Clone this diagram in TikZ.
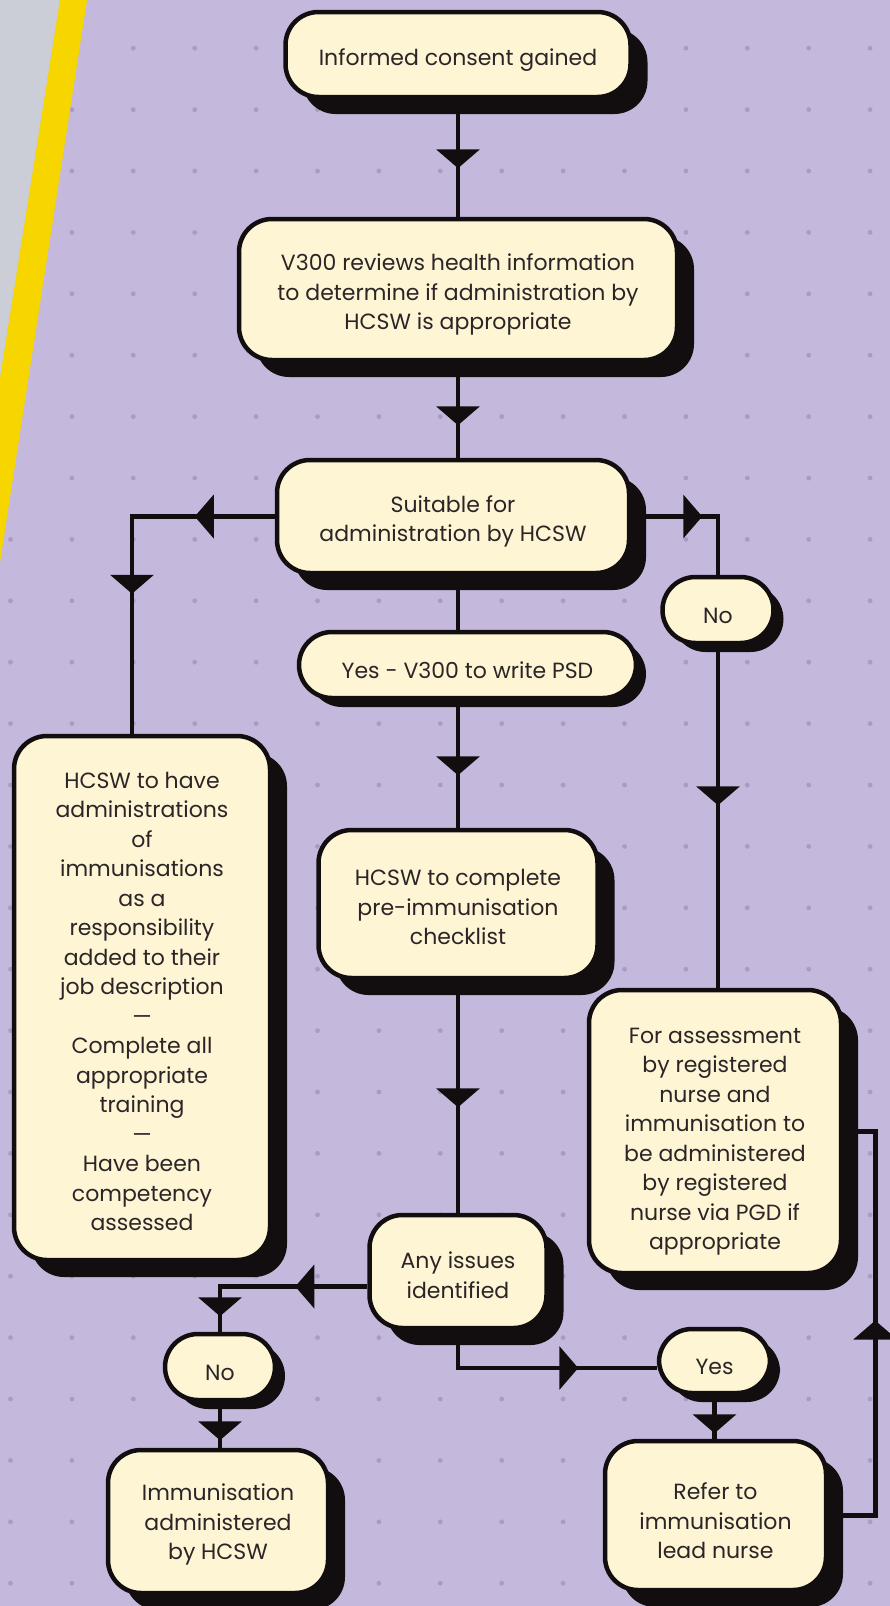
\documentclass[tikz,border=0pt]{standalone}
\usepackage{fontspec}
\setmainfont{Poppins}
\usepackage{xcolor}
\definecolor{fclavender}{RGB}{196,185,220}
\definecolor{fcdot}{RGB}{168,157,192}
\definecolor{fcgrey}{RGB}{203,206,215}
\definecolor{fcyellow}{RGB}{247,214,0}
\definecolor{fccream}{RGB}{254,245,213}
\definecolor{fcink}{RGB}{18,13,15}
\definecolor{fctext}{RGB}{43,37,39}
\usepackage{tikz}
\usetikzlibrary{arrows.meta, shadows, decorations.markings}
\pgfdeclarelayer{paper}
\pgfdeclarelayer{wires}
\pgfsetlayers{paper,wires,main}
\newcommand{\cardrise}[1][27pt]{\rule{0pt}{#1}}
\tikzset{
  card/.style={draw=fcink, line width=4.5pt, fill=fccream, rounded corners=33pt,
               text=fctext, align=center, inner sep=0pt,
               font=\fontsize{22}{29.5}\selectfont,
               execute at begin node={\cardrise}},
  bigcard/.style={card, drop shadow={shadow xshift=17pt, shadow yshift=-17pt,
                  fill=fcink, opacity=1}},
  smallcard/.style={card, drop shadow={shadow xshift=10pt, shadow yshift=-9pt,
                    fill=fcink, opacity=1}},
  wire/.style={fcink, line width=4.5pt},
  tipat/.style={postaction={decorate, decoration={markings,
      mark=at position #1 with {\arrow{Triangle[width=43pt,length=19pt]}}}}}
}

\begin{document}
\begin{tikzpicture}[x=1pt, y=-1pt]
  \begin{pgfonlayer}{paper}
    \fill[fclavender] (0,0) rectangle (890,1606);
    \foreach \i in {0,...,14}
      \foreach \j in {0,...,25}
        \fill[fcdot] (10.5+61.4*\i, 48.2+61.4*\j) circle (2.4pt);
    \fill[fcgrey] (0,0) -- (60,0) -- (0,378) -- cycle;
    \fill[fcyellow] (60,0) -- (87,0) -- (0,562) -- (0,378) -- cycle;
  \end{pgfonlayer}
  \useasboundingbox (0,0) rectangle (890,1606);

  % main column
  \node[bigcard, minimum width=345pt, minimum height=85pt] (consent) at (458,54.5)
        {Informed consent gained};
  \node[bigcard, minimum width=438pt, minimum height=141pt] (review) at (458,289.5)
        {\cardrise V300 reviews health information\\ to determine if administration by\\ HCSW is appropriate};
  \node[bigcard, minimum width=352pt, minimum height=113pt] (suitable) at (453,516.5)
        {\cardrise Suitable for\\ administration by HCSW};
  \node[smallcard, minimum width=337pt, minimum height=66pt] (yespsd) at (467.5,665)
        {Yes - V300 to write PSD};
  \node[bigcard, minimum width=279pt, minimum height=148pt] (checklist) at (458,904)
        {\cardrise[23pt]HCSW to complete\\ pre-immunisation\\ checklist};
  \node[bigcard, minimum width=177pt, minimum height=113pt] (issues) at (458,1271.5)
        {\cardrise[24pt]Any issues\\ identified};

  % left side
  \node[bigcard, minimum width=256pt, minimum height=524pt] (hcswtrain) at (142,998)
        {\cardrise[23pt]HCSW to have\\ administrations\\ of\\ immunisations\\ as a\\ responsibility\\
         added to their\\ job description\\ —\\ Complete all\\ appropriate\\ training\\ —\\
         Have been\\ competency\\ assessed};
  \node[smallcard, minimum width=110pt, minimum height=66pt] (noleft) at (220,1367) {No};
  \node[bigcard, minimum width=220pt, minimum height=143pt] (given) at (218,1521.5)
        {\cardrise[23pt]Immunisation\\ administered\\ by HCSW};

  % right side
  \node[smallcard, minimum width=111pt, minimum height=66pt] (noright) at (718,610) {No};
  \node[bigcard, minimum width=252pt, minimum height=283pt] (assess) at (715,1131.5)
        {\cardrise[36pt]For assessment\\ by registered\\ nurse and\\ immunisation to\\ be administered\\
         by registered\\ nurse via PGD if\\ appropriate};
  \node[smallcard, minimum width=111pt, minimum height=64pt] (yesissue) at (714.5,1361) {Yes};
  \node[bigcard, minimum width=221pt, minimum height=149pt] (refer) at (715.5,1515.5)
        {\cardrise[28pt]Refer to\\ immunisation\\ lead nurse};

  % connectors
  \begin{pgfonlayer}{wires}
    \draw[wire, tipat=69pt] (consent.south) -- (review.north);
    \draw[wire, tipat=63pt] (review.south) -- (review.south |- suitable.north);
    \draw[wire, tipat=80pt, tipat=220pt] (suitable.west) -| ([xshift=-10pt]hcswtrain.north);
    \draw[wire, tipat=71pt] (suitable.east) -| (noright.north);
    \draw[wire] (review.south |- suitable.south) -- (review.south |- yespsd.north);
    \draw[wire, tipat=75pt] (checklist.north |- yespsd.south) -- (checklist.north);
    \draw[wire, tipat=160pt] (noright.south) -- (noright.south |- assess.north);
    \draw[wire, tipat=127pt] (checklist.south) -- (issues.north);
    \draw[wire, tipat=72pt, tipat=177pt] ([yshift=-15pt]issues.west) -| (noleft.north);
    \draw[wire, tipat=158pt] (issues.south) |- ([yshift=-7pt]yesissue.west);
    \draw[wire, tipat=38pt] (noleft.south) -- (noleft.south |- given.north);
    \draw[wire, tipat=38pt] (yesissue.south) -- (yesissue.south |- refer.north);
    \draw[wire, tipat=242pt] (refer.east) -| ([xshift=32pt]assess.east) -- (assess.east);
  \end{pgfonlayer}
\end{tikzpicture}
\end{document}
